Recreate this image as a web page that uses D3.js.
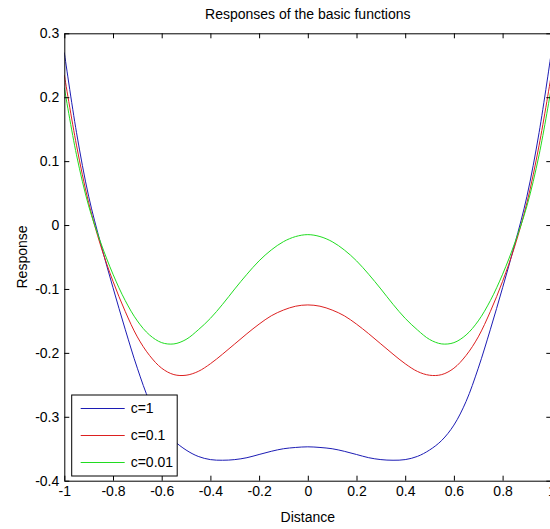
<!DOCTYPE html>
<html>
<head>
<meta charset="utf-8">
<script src="https://cdn.jsdelivr.net/npm/d3@7"></script>
<style>
  html, body { margin: 0; padding: 0; background: #fff; }
  svg { display: block; }
  text { font-family: "Liberation Sans", Arial, sans-serif; fill: #000; }
</style>
</head>
<body>
<svg id="chart" width="550" height="529"></svg>
<script>
const distance = [-1, -0.95, -0.9, -0.85, -0.8, -0.75, -0.7, -0.65, -0.6, -0.55, -0.5, -0.45, -0.4, -0.35, -0.3, -0.25, -0.2, -0.15, -0.1, -0.05, 0,
                  0.05, 0.1, 0.15, 0.2, 0.25, 0.3, 0.35, 0.4, 0.45, 0.5, 0.55, 0.6, 0.65, 0.7, 0.75, 0.8, 0.85, 0.9, 0.95, 1];

const responseC1 = [0.270, 0.145, 0.045, -0.030, -0.098, -0.163, -0.224, -0.276, -0.313, -0.337, -0.352, -0.362, -0.367, -0.368, -0.367, -0.364, -0.359, -0.354, -0.350, -0.348, -0.347,
                    -0.348, -0.350, -0.354, -0.359, -0.364, -0.367, -0.368, -0.367, -0.362, -0.352, -0.337, -0.313, -0.276, -0.224, -0.163, -0.098, -0.030, 0.045, 0.145, 0.270];

const responseC01 = [0.235, 0.125, 0.035, -0.033, -0.088, -0.135, -0.175, -0.204, -0.224, -0.234, -0.235, -0.229, -0.217, -0.202, -0.186, -0.170, -0.155, -0.142, -0.133, -0.127, -0.125,
                     -0.127, -0.133, -0.142, -0.155, -0.170, -0.186, -0.202, -0.217, -0.229, -0.235, -0.234, -0.224, -0.204, -0.175, -0.135, -0.088, -0.033, 0.035, 0.125, 0.235];

const responseC001 = [0.215, 0.110, 0.030, -0.028, -0.077, -0.118, -0.150, -0.172, -0.184, -0.186, -0.179, -0.164, -0.146, -0.124, -0.100, -0.077, -0.056, -0.039, -0.026, -0.018, -0.015,
                      -0.018, -0.026, -0.039, -0.056, -0.077, -0.100, -0.124, -0.146, -0.164, -0.179, -0.186, -0.184, -0.172, -0.150, -0.118, -0.077, -0.028, 0.030, 0.110, 0.215];

const seriesNames = ["c=1", "c=0.1", "c=0.01"];
const seriesColors = ["#1c1cb4", "#dc2020", "#20dc20"];

const xTickValues = [-1, -0.8, -0.6, -0.4, -0.2, 0, 0.2, 0.4, 0.6, 0.8, 1];
const xTickLabels = ["-1", "-0.8", "-0.6", "-0.4", "-0.2", "0", "0.2", "0.4", "0.6", "0.8", "1"];
const yTickValues = [-0.4, -0.3, -0.2, -0.1, 0, 0.1, 0.2, 0.3];
const yTickLabels = ["-0.4", "-0.3", "-0.2", "-0.1", "0", "0.1", "0.2", "0.3"];

const titleText = "Responses of the basic functions";
const xLabelText = "Distance";
const yLabelText = "Response";

(function () {
const svg = d3.select("#chart");
const pL = 64.3, pR = 551.3, pT = 33.3, pB = 480.7;

const x = d3.scaleLinear().domain([-1, 1]).range([pL, pR]);
const y = d3.scaleLinear().domain([-0.4, 0.3]).range([pB, pT]);

const fontSize = 14;

svg.append("defs").append("clipPath").attr("id", "plotclip")
  .append("rect").attr("x", pL).attr("y", pT).attr("width", pR - pL).attr("height", pB - pT);

const series = [responseC1, responseC01, responseC001];
const line = d3.line()
  .x((d, i) => x(distance[i]))
  .y(d => y(d))
  .curve(d3.curveCatmullRom);

const linesG = svg.append("g").attr("clip-path", "url(#plotclip)");
series.forEach((s, k) => {
  linesG.append("path")
    .attr("d", line(s))
    .attr("fill", "none")
    .attr("stroke", seriesColors[k])
    .attr("stroke-width", 1);
});

const fmtX = d => xTickLabels[xTickValues.indexOf(d)];
const fmtY = d => yTickLabels[yTickValues.indexOf(d)];

const axBottom = svg.append("g").attr("transform", `translate(0,${pB})`)
  .call(d3.axisBottom(x).tickValues(xTickValues).tickFormat(fmtX).tickSize(-5).tickSizeOuter(0).tickPadding(5));
const axTop = svg.append("g").attr("transform", `translate(0,${pT})`)
  .call(d3.axisTop(x).tickValues(xTickValues).tickFormat("").tickSize(-5).tickSizeOuter(0));
const axLeft = svg.append("g").attr("transform", `translate(${pL},0)`)
  .call(d3.axisLeft(y).tickValues(yTickValues).tickFormat(fmtY).tickSize(-5).tickSizeOuter(0).tickPadding(5));
const axRight = svg.append("g").attr("transform", `translate(${pR},0)`)
  .call(d3.axisRight(y).tickValues(yTickValues).tickFormat("").tickSize(-5).tickSizeOuter(0));

[axBottom, axTop, axLeft, axRight].forEach(g => {
  g.selectAll("path.domain").attr("stroke", "#000").attr("stroke-width", 1);
  g.selectAll(".tick line").attr("stroke", "#000").attr("stroke-width", 1);
  g.selectAll(".tick text")
    .attr("font-family", "'Liberation Sans', Arial, sans-serif")
    .attr("font-size", fontSize)
    .attr("fill", "#000");
});

const cx = (pL + pR) / 2;
svg.append("text").attr("x", cx).attr("y", 19).attr("text-anchor", "middle")
  .attr("font-size", fontSize).text(titleText);
svg.append("text").attr("x", cx).attr("y", 522).attr("text-anchor", "middle")
  .attr("font-size", fontSize).text(xLabelText);
svg.append("text")
  .attr("transform", `translate(27,${(pT + pB) / 2}) rotate(-90)`)
  .attr("text-anchor", "middle")
  .attr("font-size", fontSize).text(yLabelText);

const legX = 71.7, legY = 395, legW = 105.5, legH = 81;
const legend = svg.append("g");
legend.append("rect").attr("x", legX).attr("y", legY).attr("width", legW).attr("height", legH)
  .attr("fill", "#fff").attr("stroke", "#000").attr("stroke-width", 1);
const rowH = legH / 3;
seriesNames.forEach((name, k) => {
  const cy = legY + rowH * (k + 0.5);
  legend.append("line").attr("x1", legX + 9).attr("x2", legX + 53).attr("y1", cy).attr("y2", cy)
    .attr("stroke", seriesColors[k]).attr("stroke-width", 1);
  legend.append("text").attr("x", legX + 59).attr("y", cy).attr("dy", "0.35em")
    .attr("font-size", fontSize).text(name);
});
})();
</script>
</body>
</html>
